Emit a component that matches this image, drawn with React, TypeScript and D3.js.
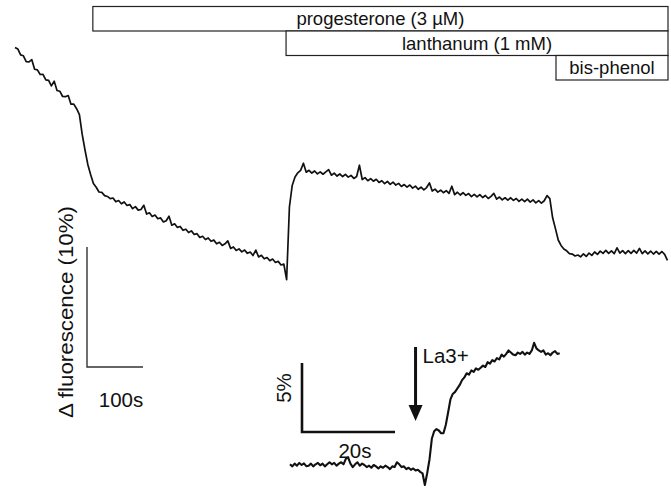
import React from "react";
import * as d3 from "d3";

// ---------- data ----------
const mainStepSeconds = 5;
// Δ fluorescence (%) sampled every 5 s
const mainValues = [
  19.8, 19.67, 19.18, 19.1, 18.62, 18.6, 18.78, 17.98, 17.93, 17.54, 17.56, 17.1, 17.05, 16.59, 16.99, 16.21, 16.15, 15.71, 15.69, 15.79, 15.07, 15.07, 14.69,
  14.2, 12.55, 11.25, 10.05, 9.2, 8.45, 8.15, 7.75, 7.72, 7.45, 7.38, 7.2,
  7.25, 6.94, 7.04, 6.77, 6.92, 6.63, 6.7, 6.36, 6.53, 6.24, 6.29, 6.64, 5.91, 6.02, 5.71, 5.83, 5.52, 5.59, 5.25, 5.36, 5.73, 4.98, 5.1, 4.8, 4.88, 4.56, 4.65, 4.37, 4.51, 4.21, 4.28, 3.96, 4.06, 3.79, 3.92, 3.64, 3.74, 3.43, 3.56, 3.3, 3.43, 3.68, 3.05, 3.17, 2.88, 3.01, 2.76, 2.91, 2.64, 2.75, 2.46, 2.91, 2.34, 2.47, 2.18, 2.29, 2.03, 2.16, 1.88, 1.97, 1.67, 1.75,
  0.45, 6.5, 8.3, 9.0, 9.35, 9.55, 10.15,
  9.4, 9.56, 9.33, 9.5, 9.26, 9.43, 9.23, 9.42, 9.62, 9.15,
  9.32, 9.08, 9.25, 9.04, 9.22, 8.99, 9.13, 8.88, 9.04, 9.98,
  8.79, 8.95, 8.69, 8.87, 8.65, 8.81, 8.55, 8.69, 8.45, 8.63,
  8.39, 8.57, 8.33, 8.47, 8.21, 8.37, 8.15, 8.33, 8.07, 8.24,
  7.98, 8.15, 7.93, 8.12, 8.51, 7.83, 7.99, 7.74, 7.9, 7.69,
  7.87, 7.64, 8.23, 7.53, 7.73, 7.5, 7.69, 7.47, 7.62, 7.37,
  7.55, 7.34, 7.53, 7.29, 7.46, 7.21, 7.39, 7.63, 7.15, 7.33,
  7.09, 7.27, 7.07, 7.27, 7.05, 7.21, 6.97, 7.15, 6.95, 7.15,
  6.91, 7.09, 6.85, 7.03, 6.83, 7.02,
  7.45, 7.2, 5.6, 4.7, 3.75, 3.3, 3.0, 2.85, 2.62, 2.58, 2.42, 2.5, 2.34,
  2.6, 2.38, 2.66, 2.47, 2.75, 2.55, 2.82, 2.63, 2.88, 2.64, 2.85, 2.62, 3.1, 2.65, 2.87, 2.62, 2.86, 2.63, 2.88, 2.66, 3.05, 2.61, 2.84, 2.6, 2.83, 2.58, 2.8, 2.57, 2.79, 2.55, 2.05,
];
const recordingEndSeconds = 1166;

const treatmentLabels = ["progesterone (3 µM)", "lanthanum (1 mM)", "bis-phenol"];
const treatmentStartSeconds = [139, 484, 966];

const mainScaleSeconds = 100;
const mainScalePercent = 10;
const mainScaleLabel = "100s";
const yAxisLabel = "Δ fluorescence (10%)";

// inset: Δ fluorescence (%) every 0.5 s
const insetStepSeconds = 0.5;
const insetValues = [
  0.05, -0.1, 0.1, -0.05, 0.15, 0.0, 0.12, -0.08, -0.05, 0.1,
  -0.1, 0.05, 0.15, -0.02, 0.1, -0.1, 0.05, 0.2, 0.05, 0.15,
  -0.05, 0.1, 0.2, 0.05, 0.45, 0.55, 0.1, -0.15, 0.05, 0.2,
  -0.05, 0.1, 0.0, -0.15, -0.05, -0.2, 0.0, -0.1, -0.25, -0.1,
  -0.2, -0.05, -0.15, -0.3, -0.1, -0.15, 0.2, 0.05, -0.15, -0.1,
  -0.3, -0.2, -0.35, -0.25, -0.4, -0.35, -0.5,
  -0.6, -1.45, -0.6,
  0.4, 1.9, 2.45, 2.6, 2.5, 2.3, 2.3, 2.9, 3.8, 4.75,
  5.15, 5.3, 5.55, 5.8, 6.15, 6.35, 6.65, 6.55, 6.85, 6.75,
  7.0, 6.9, 7.05, 7.2, 7.1, 7.45, 7.35, 7.6, 7.5, 7.75,
  7.65, 8.0, 7.85, 8.05, 8.3, 8.15, 8.0, 7.95, 8.15, 8.05,
  8.2, 8.0, 8.15, 8.05, 8.3, 8.85, 8.45, 8.3, 8.2, 8.3,
  8.0, 8.1, 7.95, 8.15, 8.25, 8.05, 8.1,
];
const insetDurationSeconds = 58;
const insetArrowSeconds = 27;
const insetArrowLabel = "La3+";
const insetScaleSeconds = 20;
const insetScalePercent = 5;
const insetScaleTimeLabel = "20s";
const insetScaleAmpLabel = "5%";

// ---------- chart ----------
const W = 671;
const H = 490;
const FONT = "'Liberation Sans', Arial, Helvetica, sans-serif";

export default function App() {
  const x = d3.scaleLinear().domain([0, recordingEndSeconds]).range([15, 668]);
  const y = d3.scaleLinear().domain([0, 20]).range([285, 45]);

  const mainLine = d3
    .line<number>()
    .x((_, i) => x(i * mainStepSeconds))
    .y((v) => y(v));

  const ix = d3.scaleLinear().domain([0, insetDurationSeconds]).range([290, 290 + insetDurationSeconds * 4.65]);
  const iy = d3.scaleLinear().domain([0, 5]).range([465, 396]);
  const insetLine = d3
    .line<number>()
    .x((_, i) => ix(i * insetStepSeconds))
    .y((v) => iy(v));

  const rowTop = 6.5;
  const rowH = 24.5;

  // main scale bar
  const sbX = 87;
  const sbY = 367;
  const sbW = x(mainScaleSeconds) - x(0);
  const sbH = y(0) - y(mainScalePercent);

  // inset scale bar
  const isbX = 302;
  const isbY = 432;
  const isbW = ix(insetScaleSeconds) - ix(0);
  const isbH = iy(0) - iy(insetScalePercent);

  const ax = ix(insetArrowSeconds);

  return (
    <svg
      width={W}
      height={H}
      style={{ position: "absolute", left: 0, top: 0, background: "#fff" }}
      fontFamily={FONT}
    >
      <rect x={0} y={0} width={W} height={H} fill="#fff" />
      {treatmentLabels.map((lab, i) => {
        const x0 = x(treatmentStartSeconds[i]);
        const x1 = x(recordingEndSeconds);
        const top = rowTop + i * rowH;
        return (
          <g key={lab}>
            <rect x={x0} y={top} width={x1 - x0} height={rowH} fill="#fff" stroke="#222" strokeWidth={1.2} />
            <text x={(x0 + x1) / 2} y={top + rowH / 2 + 6.3} fontSize={18.5} textAnchor="middle" fill="#111">
              {lab}
            </text>
          </g>
        );
      })}

      <path d={mainLine(mainValues) || ""} fill="none" stroke="#111" strokeWidth={1.7} strokeLinejoin="round" />

      {/* main scale bar */}
      <path d={`M${sbX},${sbY - sbH}V${sbY}H${sbX + sbW}`} fill="none" stroke="#333" strokeWidth={1.4} />
      <text x={121} y={407} fontSize={20.5} textAnchor="middle" fill="#111">
        {mainScaleLabel}
      </text>
      <text
        transform="translate(72.5,312) rotate(-90)"
        fontSize={21}
        textAnchor="middle"
        textLength={212}
        lengthAdjust="spacingAndGlyphs"
        fill="#111"
      >
        {yAxisLabel}
      </text>

      {/* inset */}
      <path d={insetLine(insetValues) || ""} fill="none" stroke="#111" strokeWidth={2.1} strokeLinejoin="round" />
      <path d={`M${isbX},${isbY - isbH}V${isbY}H${isbX + isbW}`} fill="none" stroke="#111" strokeWidth={2.6} />
      <text x={355} y={458} fontSize={20.5} textAnchor="middle" fill="#111">
        {insetScaleTimeLabel}
      </text>
      <text transform="translate(291,388) rotate(-90)" fontSize={20.5} textAnchor="middle" fill="#111">
        {insetScaleAmpLabel}
      </text>
      <line x1={ax} y1={347} x2={ax} y2={408} stroke="#111" strokeWidth={3} />
      <polygon points={`${ax - 7},${405} ${ax + 7},${405} ${ax},${421}`} fill="#111" />
      <text x={ax + 7} y={363} fontSize={20.5} fill="#111">
        {insetArrowLabel}
      </text>
    </svg>
  );
}
